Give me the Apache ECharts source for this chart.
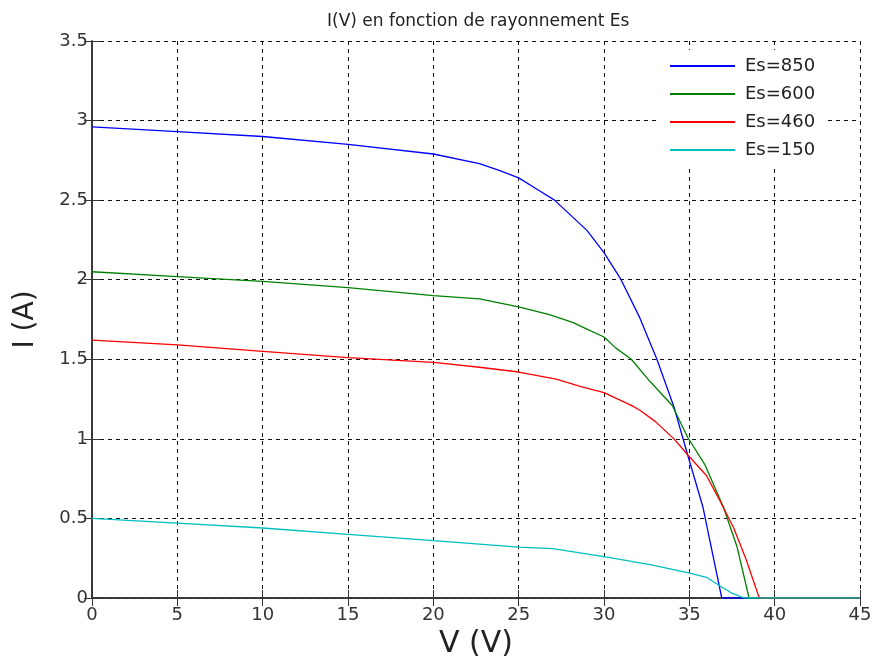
<!DOCTYPE html>
<html lang="fr">
<head>
    <meta charset="UTF-8">
    <title>I(V) en fonction de rayonnement Es</title>
    <script src="https://cdn.jsdelivr.net/npm/echarts@6/dist/echarts.min.js"></script>
    <style>
        html, body { margin: 0; padding: 0; background: #fff; }
    </style>
</head>
<body>
<div id="main" style="width: 876px;height:662px;"></div>
<script>
    // tension V (V) et courant I (A) relevés pour chaque rayonnement
    var names = ['Es=850', 'Es=600', 'Es=460', 'Es=150'];

    var v850 = [0, 5, 10, 15, 20, 22.7, 23.9, 25, 26.05, 27.1, 28.2, 29, 30, 31, 32.1, 33.1, 34.1, 34.9, 35.8, 36.3, 36.9, 45];
    var i850 = [2.96, 2.93, 2.90, 2.85, 2.79, 2.73, 2.685, 2.64, 2.57, 2.50, 2.39, 2.31, 2.17, 2.00, 1.76, 1.50, 1.20, 0.90, 0.57, 0.31, 0, 0];

    var v600 = [0, 5, 10, 15, 20, 22.7, 25, 26.8, 28.2, 29, 30, 30.7, 31.6, 32.7, 34, 34.9, 35.9, 37, 37.8, 38.5, 45];
    var i600 = [2.05, 2.02, 1.99, 1.95, 1.90, 1.88, 1.83, 1.78, 1.73, 1.69, 1.64, 1.57, 1.50, 1.36, 1.21, 1.01, 0.84, 0.57, 0.32, 0, 0];

    var v460 = [0, 5, 10, 15, 20, 22.7, 25, 27.2, 28.6, 30, 31.6, 32.1, 33, 34.1, 34.9, 36, 36.8, 37.6, 38.3, 39.1, 45];
    var i460 = [1.62, 1.59, 1.55, 1.51, 1.48, 1.45, 1.42, 1.375, 1.33, 1.29, 1.21, 1.18, 1.11, 1.00, 0.90, 0.77, 0.61, 0.44, 0.25, 0, 0];

    var v150 = [0, 5, 10, 15, 20, 25, 27, 30, 32.7, 34.9, 36, 36.8, 37.5, 38.2, 45];
    var i150 = [0.50, 0.47, 0.44, 0.40, 0.36, 0.32, 0.31, 0.26, 0.21, 0.16, 0.13, 0.075, 0.03, 0, 0];

    var colors = ['#0000ff', '#008000', '#ff0000', '#00bfbf'];

    function pairs(v, i) {
        var out = [];
        for (var k = 0; k < v.length; k++) {
            out.push([v[k], i[k]]);
        }
        return out;
    }

    var curves = [pairs(v850, i850), pairs(v600, i600), pairs(v460, i460), pairs(v150, i150)];

    var font = 'DejaVu Sans';

    var series = [];
    for (var s = 0; s < curves.length; s++) {
        series.push({
            name: names[s],
            type: 'line',
            data: curves[s],
            symbol: 'none',
            smooth: false,
            lineStyle: { color: colors[s], width: 1.3 },
            itemStyle: { color: colors[s] },
            z: 3 + s
        });
    }

    var gridDash = { show: true, lineStyle: { color: '#111', type: [4, 4], width: 1 } };

    var myChart = echarts.init(document.getElementById('main'));
    var option = {
        backgroundColor: '#fff',
        animation: false,
        title: {
            text: 'I(V) en fonction de rayonnement Es',
            left: 322,
            top: 8,
            textStyle: { fontFamily: font, fontSize: 17, fontWeight: 'normal', color: '#222' }
        },
        legend: {
            data: names,
            orient: 'vertical',
            left: 657,
            top: 50,
            padding: [6, 10, 8, 13],
            itemGap: 8,
            itemWidth: 65,
            itemHeight: 2,
            icon: 'rect',
            backgroundColor: '#fff',
            textStyle: { fontFamily: font, fontSize: 18, color: '#222', lineHeight: 20, padding: [0, 0, 0, 5] }
        },
        grid: { left: 92, top: 41, right: 16, bottom: 64, containLabel: false, outerBoundsMode: 'none' },
        xAxis: [
            {
                type: 'value',
                min: 0,
                max: 45,
                interval: 5,
                name: 'V (V)',
                nameLocation: 'middle',
                nameGap: 30,
                nameTextStyle: { fontFamily: font, fontSize: 30, color: '#222' },
                axisLine: { lineStyle: { color: '#333', width: 1.5 } },
                axisTick: { inside: true, length: 8, lineStyle: { color: '#333' } },
                axisLabel: { fontFamily: font, fontSize: 18, color: '#333', margin: 8 },
                splitLine: gridDash
            },
            {
                type: 'value',
                position: 'top',
                min: 0,
                max: 45,
                interval: 5,
                axisLine: { show: true, lineStyle: { color: '#333', width: 1.5 } },
                axisTick: { inside: true, length: 8, lineStyle: { color: '#333' } },
                axisLabel: { show: false },
                splitLine: { show: false }
            }
        ],
        yAxis: [
            {
                type: 'value',
                min: 0,
                max: 3.5,
                interval: 0.5,
                name: 'I (A)',
                nameLocation: 'middle',
                nameGap: 52,
                nameTextStyle: { fontFamily: font, fontSize: 28, color: '#222' },
                axisLine: { show: true, lineStyle: { color: '#333', width: 1.5 } },
                axisTick: { show: true, inside: true, length: 8, lineStyle: { color: '#333' } },
                axisLabel: { fontFamily: font, fontSize: 18, color: '#333', margin: 4 },
                splitLine: gridDash
            },
            {
                type: 'value',
                position: 'right',
                min: 0,
                max: 3.5,
                interval: 0.5,
                axisLine: { show: true, lineStyle: { color: '#333', width: 1.5 } },
                axisTick: { show: true, inside: true, length: 8, lineStyle: { color: '#333' } },
                axisLabel: { show: false },
                splitLine: { show: false }
            }
        ],
        series: series
    };
    myChart.setOption(option);
</script>
</body>
</html>
